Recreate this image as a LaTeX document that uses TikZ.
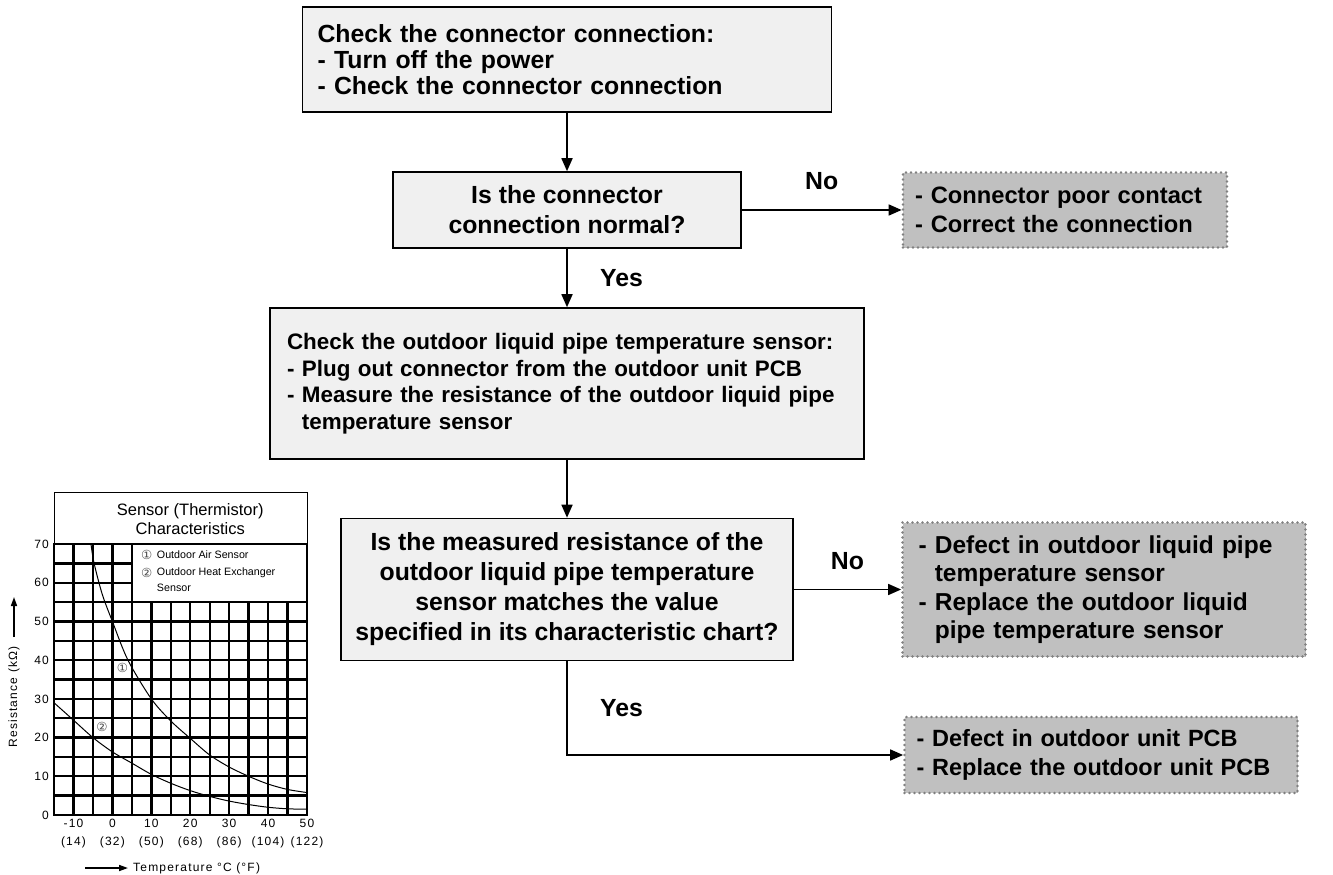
\documentclass[tikz,border=0pt]{standalone}
\usepackage{fontspec}
\setmainfont{Liberation Sans}
\newfontfamily\circfont{DejaVu Sans}
\newfontfamily\chartfont[LetterSpace=10]{Liberation Sans}
\usetikzlibrary{calc, positioning}
\usetikzlibrary{arrows.meta}

\definecolor{boxgray}{HTML}{F0F0F0}
\definecolor{faultgray}{HTML}{C0C0C0}
\definecolor{dotgray}{HTML}{808080}

\begin{document}
\begin{tikzpicture}[x=1pt,y=-1pt,
    checkbox/.style={draw=black, line width=1.6pt, fill=boxgray, align=left,
        inner xsep=15pt, inner ysep=0pt,
        font=\bfseries\fontsize{24.8}{25.8}\selectfont},
    askbox/.style={draw=black, line width=1.6pt, fill=boxgray, align=center,
        inner sep=0pt, font=\bfseries\fontsize{24.8}{30}\selectfont},
    faultbox/.style={draw=dotgray, fill=faultgray, line width=2.8pt,
        dash pattern=on 0pt off 5pt, line cap=round, align=left,
        inner xsep=12pt, inner ysep=0pt,
        font=\bfseries\fontsize{24.5}{28.5}\selectfont},
    conn/.style={line width=1.7pt, -{Triangle[length=13pt,width=11pt]}},
    answer/.style={font=\bfseries\fontsize{24.8}{26}\selectfont},
    gridline/.style={line width=2.4pt, line cap=rect},
    curve/.style={line width=1pt},
    ticklabel/.style={font=\chartfont\fontsize{12}{18}\selectfont, inner sep=0pt},
    legend/.style={font=\fontsize{10.7}{14}\selectfont, inner sep=0pt},
    circnum/.style={font=\circfont\fontsize{12.5}{14}\selectfont,
        text=gray!60!black, inner sep=0pt}]
\useasboundingbox (0,0) rectangle (1333,875);

% Flowchart boxes
\node[checkbox, text width=499pt, minimum height=105pt] (chkconn) at (567,59.5)
    {Check the connector connection:\\- Turn off the power\\- Check the connector connection};
\node[askbox, minimum width=348pt, minimum height=76pt] (isnormal) at (567,210)
    {Is the connector\\connection normal?};
\node[faultbox, text width=300pt, minimum height=75pt,
    font=\bfseries\fontsize{23.7}{28.5}\selectfont] (poorcontact) at (1065,210)
    {- Connector poor contact\\- Correct the connection};
\node[checkbox, text width=560pt, inner xsep=17pt, minimum height=151pt,
    font=\bfseries\fontsize{22.4}{26.5}\selectfont] (chksensor) at (567,383.5)
    {Check the outdoor liquid pipe temperature sensor:\\
     - Plug out connector from the outdoor unit PCB\\
     - Measure the resistance of the outdoor liquid pipe\\
     \hphantom{- }temperature sensor};
\node[askbox, minimum width=452pt, minimum height=142pt] (ismatch) at (567,589.5)
    {Is the measured resistance of the\\outdoor liquid pipe temperature\\
     sensor matches the value\\specified in its characteristic chart?};
\node[faultbox, text width=371pt, inner xsep=16pt, minimum height=134pt] (sensordefect) at (1104,589.5)
    {- Defect in outdoor liquid pipe\\\hphantom{- }temperature sensor\\
     - Replace the outdoor liquid\\\hphantom{- }pipe temperature sensor};
\node[faultbox, text width=369pt, inner xsep=12pt, minimum height=76pt,
    font=\bfseries\fontsize{23.5}{28.5}\selectfont] (pcbdefect) at (1101,755)
    {- Defect in outdoor unit PCB\\- Replace the outdoor unit PCB};

% Connectors and answers
\draw[conn] (chkconn.south) -- (isnormal.north);
\draw[conn] (isnormal.east) -- (poorcontact.west)
    node[answer, midway, above=16pt] (no1) {No};
\draw[conn] (isnormal.south) -- (chksensor.north)
    node[answer, midway, right=29pt] (yes1) {Yes};
\draw[conn] (chksensor.south) -- (ismatch.north);
\draw[conn] (ismatch.east) -- (sensordefect.west)
    node[answer, midway, above=16pt] (no2) {No};
\draw[conn] (ismatch.south) |- (pcbdefect.west)
    node[answer, pos=0.25, right=29pt] (yes2) {Yes};

% Sensor characteristic chart (T in degC, R in kOhm)
\begin{scope}[shift={(112.4,815)}, x=3.892pt, y=3.871pt]
  % title frame
  \draw[line width=0.9pt] (-15,70) -- (-15,83.2) -- (50,83.2) -- (50,70);
  \node[font=\fontsize{16.5}{19}\selectfont, align=center, inner sep=0pt] (ctitle) at (20,76.4)
      {Sensor (Thermistor)\\Characteristics};
  % grid
  \foreach \t in {-15,-10,-5,0,5,50}
    \draw[gridline] (\t,0) -- (\t,70);
  \foreach \t in {10,15,...,45}
    \draw[gridline] (\t,0) -- (\t,55);
  \foreach \r in {0,5,...,55}
    \draw[gridline] (-15,\r) -- (50,\r);
  \foreach \r in {60,65}
    \draw[gridline] (-15,\r) -- (5,\r);
  \draw[gridline] (-15,70) -- (50,70);
  % legend
  \node[circnum, anchor=west] (legnum1) at (7.3,67.2) {①};
  \node[legend, anchor=west] (legtext1) at (11.4,67.2) {Outdoor Air Sensor};
  \node[circnum, anchor=west] (legnum2) at (7.3,62.5) {②};
  \node[legend, anchor=west] (legtext2) at (11.4,62.5) {Outdoor Heat Exchanger};
  \node[legend, anchor=west] (legtext3) at (11.4,58.6) {Sensor};
  % curves
  \draw[curve] plot[smooth] coordinates {(-5.5,70) (-4.7,65) (-2.6,57) (0,50)
      (4,40) (10,30) (15,24.3) (20,19.8) (25,15.5) (30,12.4) (35,10)
      (40,8) (45,6.6) (50,5.8)};
  \draw[curve] plot[smooth] coordinates {(-15,29) (-10,24.5) (-5,20) (0,16.3)
      (5,13.4) (10,10.5) (15,8.2) (20,6.3) (25,4.8) (30,3.6) (35,2.7)
      (40,2) (45,1.6) (50,1.5)};
  \node[circnum, fill=white] (curvenum1) at (2.6,38) {①};
  \node[circnum, fill=white] (curvenum2) at (-2.7,22.7) {②};
  % axis numbers
  \foreach \r in {0,10,...,70}
    \node[ticklabel, anchor=east, xshift=-5pt] (ylab\r) at (-15,\r) {\r};
  \foreach \t/\f in {-10/14,0/32,10/50,20/68,30/86,40/104,50/122}
    \node[ticklabel, anchor=north, align=center, yshift=-4pt] (xlab\t) at (\t,0) {\t\\(\f)};
\end{scope}

% Axis titles
\node[ticklabel, rotate=90] (ytitle) at (14,697) {Resistance (kΩ)};
\coordinate (yarrowtip) at (14,597);
\draw[line width=1.6pt, -{Triangle[length=9pt,width=6pt]}] ([yshift=9pt]ytitle.east) -- (yarrowtip);
\node[ticklabel, anchor=west] (xtitle) at (133,868) {Temperature °C (°F)};
\coordinate (xarrowtail) at (85,868);
\draw[line width=1.6pt, -{Triangle[length=9pt,width=6pt]}] (xarrowtail) -- ([xshift=-5pt]xtitle.west);
\end{tikzpicture}
\end{document}
